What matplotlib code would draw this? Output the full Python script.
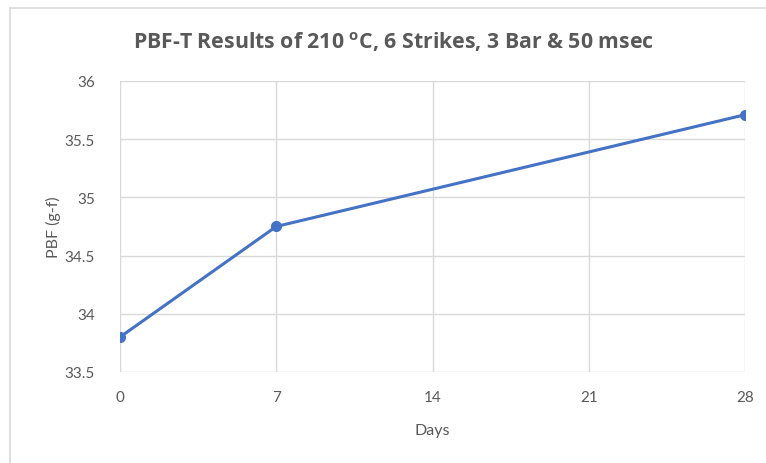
import matplotlib
matplotlib.use("Agg")
import matplotlib.pyplot as plt
from matplotlib.lines import Line2D

days = [0, 7, 28]
pbf = [33.8, 34.75, 35.71]
x_ticks = [0, 7, 14, 21, 28]
y_ticks = [33.5, 34, 34.5, 35, 35.5, 36]
y_labels = ["33.5", "34", "34.5", "35", "35.5", "36"]

plt.rcParams['font.family'] = ['Lato', 'DejaVu Sans']
grey = '#595959'
grid = '#D9D9D9'

fig = plt.figure(figsize=(7.66, 4.64), dpi=100)
ax = fig.add_axes([120/766, 1-373/464, (745-120)/766, (373-82)/464])

ax.plot(days, pbf, color='#4472C4', linewidth=2.2, marker='o', markersize=7, zorder=3)

ax.set_xlim(0, 28)
ax.set_ylim(33.5, 36)
ax.set_xticks(x_ticks)
ax.set_yticks(y_ticks)
ax.set_yticklabels(y_labels)
ax.grid(True, color=grid, linewidth=1)
ax.set_axisbelow(True)
for s in ax.spines.values():
    s.set_visible(False)
ax.tick_params(length=0, colors=grey, labelsize=11)
ax.tick_params(axis='y', pad=18)
ax.tick_params(axis='x', pad=13)
for lab in ax.get_xticklabels() + ax.get_yticklabels():
    lab.set_color(grey)

ax.set_xlabel('Days', color=grey, fontsize=11.5, labelpad=14)
ax.set_ylabel('PBF (g-f)', color=grey, fontsize=11.5, labelpad=3)

fig.text(394/766, 1-42/464, r'PBF-T Results of 210 $^{\mathregular{o}}$C, 6 Strikes, 3 Bar & 50 msec',
         ha='center', va='center', fontsize=15.3, fontweight='bold', color=grey,
         family=['Open Sans', 'DejaVu Sans'])

# chart frame
fig.add_artist(Line2D([9.5/766, 9.5/766], [0, 1-8.5/464], transform=fig.transFigure, color='#D9D9D9', linewidth=1.2))
fig.add_artist(Line2D([9.5/766, 1], [1-8.5/464, 1-8.5/464], transform=fig.transFigure, color='#D9D9D9', linewidth=1.2))

fig.savefig('out.png', dpi=100)
